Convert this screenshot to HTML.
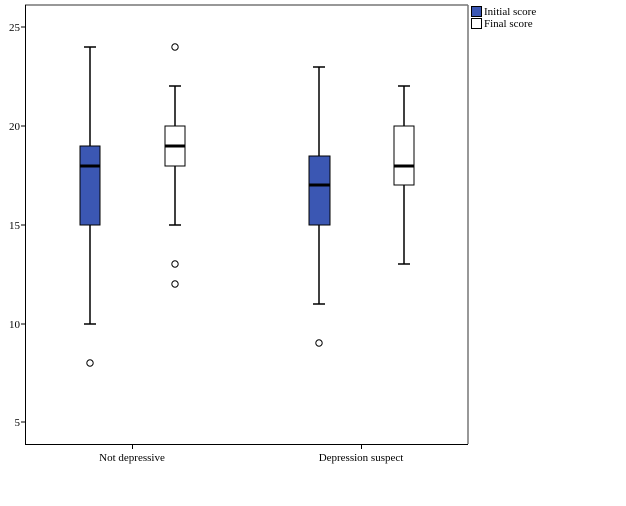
<!DOCTYPE html><html><head><style>body{margin:0;background:#fff}</style></head><body>
<svg width="626" height="501" xmlns="http://www.w3.org/2000/svg" font-family="Liberation Serif, serif" font-size="11">
<rect width="626" height="501" fill="#fff"/>
<line x1="25" y1="5" x2="468" y2="5" stroke="#777" stroke-width="1.5"/>
<line x1="468" y1="5" x2="468" y2="444" stroke="#777" stroke-width="1.5"/>
<line x1="25.5" y1="5" x2="25.5" y2="444" stroke="#000"/>
<line x1="25" y1="444.5" x2="468" y2="444.5" stroke="#000"/>
<g stroke="#000">
<line x1="21" y1="27" x2="25" y2="27"/><line x1="21" y1="126" x2="25" y2="126"/><line x1="21" y1="225" x2="25" y2="225"/><line x1="21" y1="324" x2="25" y2="324"/><line x1="21" y1="422" x2="25" y2="422"/>
<line x1="132.5" y1="444" x2="132.5" y2="449"/><line x1="361.5" y1="444" x2="361.5" y2="449"/>
</g>
<g text-anchor="end" fill="#000"><text x="20" y="31">25</text><text x="20" y="130">20</text><text x="20" y="229">15</text><text x="20" y="328">10</text><text x="20" y="426">5</text></g>
<g text-anchor="middle"><text x="132" y="461">Not depressive</text><text x="361" y="461">Depression suspect</text></g>
<g stroke="#000" stroke-width="1.5" fill="none">
<!-- box1 -->
<line x1="90" y1="47" x2="90" y2="146"/><line x1="90" y1="225" x2="90" y2="324"/>
<line x1="84" y1="47" x2="96" y2="47"/><line x1="84" y1="324" x2="96" y2="324"/>
<rect x="80" y="146" width="20" height="79" fill="#3b57b3" stroke-width="1"/>
<line x1="80" y1="166" x2="100" y2="166" stroke-width="3"/>
<circle cx="90" cy="363" r="3.2" stroke-width="1"/>
<!-- box2 -->
<line x1="175" y1="86" x2="175" y2="126"/><line x1="175" y1="166" x2="175" y2="225"/>
<line x1="169" y1="86" x2="181" y2="86"/><line x1="169" y1="225" x2="181" y2="225"/>
<rect x="165" y="126" width="20" height="40" fill="#fff" stroke-width="1"/>
<line x1="165" y1="146" x2="185" y2="146" stroke-width="3"/>
<circle cx="175" cy="47" r="3.2" stroke-width="1"/><circle cx="175" cy="264" r="3.2" stroke-width="1"/><circle cx="175" cy="284" r="3.2" stroke-width="1"/>
<!-- box3 -->
<line x1="319" y1="67" x2="319" y2="156"/><line x1="319" y1="225" x2="319" y2="304"/>
<line x1="313" y1="67" x2="325" y2="67"/><line x1="313" y1="304" x2="325" y2="304"/>
<rect x="309" y="156" width="21" height="69" fill="#3b57b3" stroke-width="1"/>
<line x1="309" y1="185" x2="330" y2="185" stroke-width="3"/>
<circle cx="319" cy="343" r="3.2" stroke-width="1"/>
<!-- box4 -->
<line x1="404" y1="86" x2="404" y2="126"/><line x1="404" y1="185" x2="404" y2="264"/>
<line x1="398" y1="86" x2="410" y2="86"/><line x1="398" y1="264" x2="410" y2="264"/>
<rect x="394" y="126" width="20" height="59" fill="#fff" stroke-width="1"/>
<line x1="394" y1="166" x2="414" y2="166" stroke-width="3"/>
</g>
<rect x="471.5" y="6.5" width="10" height="10" fill="#3b57b3" stroke="#000"/>
<rect x="471.5" y="18.5" width="10" height="10" fill="#fff" stroke="#000"/>
<text x="484" y="15">Initial score</text><text x="484" y="27">Final score</text>
</svg></body></html>
